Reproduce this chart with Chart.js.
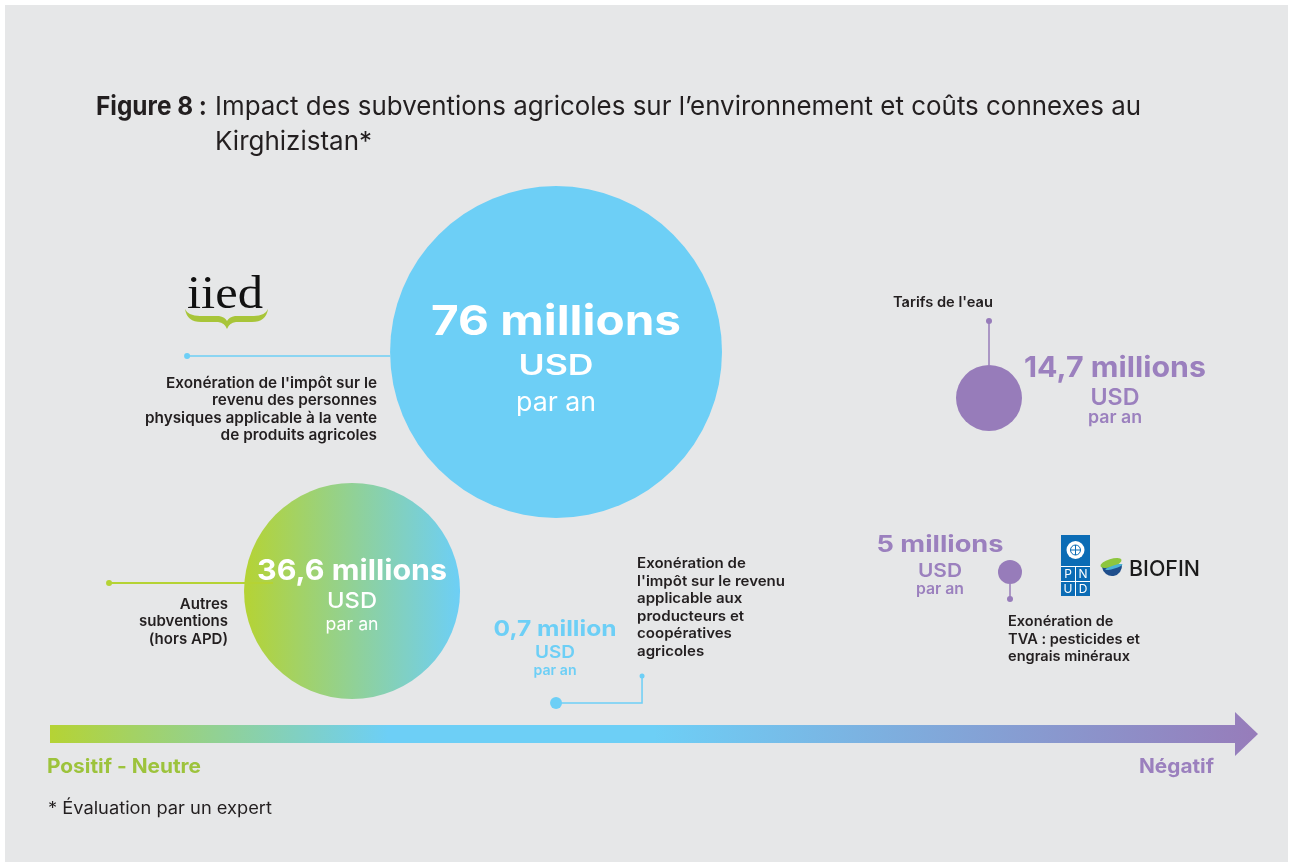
<!DOCTYPE html>
<html lang="fr">
<head>
<meta charset="utf-8">
<title>Figure 8 : Impact des subventions agricoles</title>
<script src="https://cdn.jsdelivr.net/npm/chart.js@4/dist/chart.umd.min.js"></script>
<style>
  html, body { margin: 0; padding: 0; background: #fff; }
  canvas { display: block; }
</style>
</head>
<body>
<canvas id="fig" width="1290" height="864"></canvas>
<script>
// ---- data ----
const subsidyLabels = [
  ["Exonération de l'impôt sur le", "revenu des personnes", "physiques applicable à la vente", "de produits agricoles"],
  ["Autres", "subventions", "(hors APD)"],
  ["Exonération de", "l'impôt sur le revenu", "applicable aux", "producteurs et", "coopératives", "agricoles"],
  ["Tarifs de l'eau"],
  ["Exonération de", "TVA : pesticides et", "engrais minéraux"]
];
const amountsMUSD = [76, 36.6, 0.7, 14.7, 5];
const impactScore = [42.17, 25.17, 42.17, 78.25, 80];   // 0 = positif, 100 = négatif
const verticalSpread = [62, 22.17, 3.5, 54.33, 25.33];
const bubbleSize = [13.83, 9, 0.5, 2.75, 1];            // in x-axis units
const unitLabels = ["USD", "par an"];
const axisLabels = ["Positif - Neutre", "Négatif"];
const titleBold = "Figure 8 :";
const titleLines = ["Impact des subventions agricoles sur l’environnement et coûts connexes au", "Kirghizistan*"];
const footnote = "* Évaluation par un expert";

// ---- layout / style ----
const W = 1290, H = 864;
const PAD = { left: 50, right: 40, top: 124, bottom: 140 };
const X_MIN = 0, X_MAX = 100;
const PX_PER_X = (W - PAD.left - PAD.right) / (X_MAX - X_MIN);
const FONT = 'Inter, "Open Sans", sans-serif';
const DARK = '#231f20';
const BLUE = '#6dcff6';
const GREEN = '#b5d334';
const PURPLE = '#977cba';
const PURPLE_TXT = '#9b80be';
const BG = '#e6e7e8';

const fmt = v => String(v).replace('.', ',') + (v < 2 ? ' million' : ' millions');

function text(c, s, x, y, o) {
  c.save();
  c.font = (o.weight || 400) + ' ' + o.size + 'px ' + (o.family || FONT);
  c.fillStyle = o.color || DARK;
  c.textBaseline = 'alphabetic';
  c.textAlign = 'left';
  const m = c.measureText(s).width;
  const k = o.k || (o.w ? o.w / m : 1);
  const w = m * k;
  const x0 = o.align === 'center' ? x - w / 2 : o.align === 'right' ? x - w : x;
  c.translate(x0, y);
  c.scale(k, 1);
  c.fillText(s, 0, 0);
  c.restore();
}

function lines(c, arr, x, y, lh, o) {
  c.save();
  c.font = (o.weight || 400) + ' ' + o.size + 'px ' + FONT;
  const k = o.w / c.measureText(arr[o.ref || 0]).width;
  c.restore();
  arr.forEach((s, j) => text(c, s, x, y + j * lh, Object.assign({}, o, { k: k, w: null })));
}

function seg(c, pts, color, lw) {
  c.save();
  c.strokeStyle = color;
  c.lineWidth = lw;
  c.beginPath();
  pts.forEach((p, j) => j ? c.lineTo(p[0], p[1]) : c.moveTo(p[0], p[1]));
  c.stroke();
  c.restore();
}

function dot(c, x, y, r, color) {
  c.save();
  c.fillStyle = color;
  c.beginPath();
  c.arc(x, y, r, 0, Math.PI * 2);
  c.fill();
  c.restore();
}

// amount + "USD" + "par an"
function amountBlock(c, i, x, y, o) {
  text(c, fmt(amountsMUSD[i]), x, y, { weight: 700, size: o.s[0], w: o.w[0], color: o.color, align: 'center' });
  text(c, unitLabels[0], x, y + o.dy[0], { weight: o.wt[0], size: o.s[1], w: o.w[1], color: o.color, align: 'center' });
  text(c, unitLabels[1], x, y + o.dy[1], { weight: o.wt[1], size: o.s[2], w: o.w[2], color: o.color, align: 'center' });
}

const panel = {
  id: 'panel',
  beforeDraw(chart) {
    const c = chart.ctx;
    c.save();
    c.fillStyle = '#fff';
    c.fillRect(0, 0, W, H);
    c.fillStyle = BG;
    c.fillRect(5, 5, W - 7, H - 7);
    c.restore();

    // title
    text(c, titleBold, 96, 115, { weight: 700, size: 26, w: 111 });
    text(c, titleLines[0], 215, 115, { weight: 400, size: 26, w: 926 });
    text(c, titleLines[1], 215, 150, { weight: 400, size: 26, w: 157 });

    // iied logo
    text(c, 'iied', 187, 308, { size: 46, w: 76, family: '"Liberation Serif", serif', color: '#111' });
    c.save();
    c.fillStyle = '#a8c539';
    c.beginPath();
    c.moveTo(185, 309);
    c.quadraticCurveTo(188, 316, 200, 316);
    c.lineTo(219, 316);
    c.quadraticCurveTo(225, 317, 227, 321);
    c.quadraticCurveTo(229, 317, 235, 316);
    c.lineTo(254, 316);
    c.quadraticCurveTo(265, 316, 268, 309);
    c.quadraticCurveTo(266, 322, 252, 322);
    c.lineTo(236, 322);
    c.quadraticCurveTo(229, 323, 227, 329);
    c.quadraticCurveTo(225, 323, 218, 322);
    c.lineTo(201, 322);
    c.quadraticCurveTo(187, 322, 185, 309);
    c.fill();
    c.restore();

    // PNUD logo
    c.save();
    c.fillStyle = '#0b6cb5';
    c.fillRect(1061, 535, 29, 61);
    c.restore();
    dot(c, 1075.5, 550, 9, '#fff');
    c.save();
    c.strokeStyle = '#0b6cb5';
    c.lineWidth = 1;
    c.beginPath(); c.arc(1075.5, 550, 5, 0, Math.PI * 2); c.stroke();
    c.beginPath(); c.moveTo(1070.5, 550); c.lineTo(1080.5, 550); c.moveTo(1075.5, 545); c.lineTo(1075.5, 555); c.stroke();
    c.restore();
    seg(c, [[1061, 566.5], [1090, 566.5]], '#fff', 1);
    seg(c, [[1061, 581.5], [1090, 581.5]], '#fff', 1);
    seg(c, [[1075.5, 566], [1075.5, 596]], '#fff', 1);
    text(c, 'P', 1068, 578, { size: 12, color: '#fff', align: 'center' });
    text(c, 'N', 1083, 578, { size: 12, color: '#fff', align: 'center' });
    text(c, 'U', 1068, 593, { size: 12, color: '#fff', align: 'center' });
    text(c, 'D', 1083, 593, { size: 12, color: '#fff', align: 'center' });

    // BIOFIN logo
    c.save();
    c.fillStyle = '#1f4e8c';
    c.beginPath();
    c.arc(1112, 566, 10, -0.15, Math.PI + 0.15);
    c.closePath();
    c.fill();
    c.fillStyle = '#8dc63f';
    c.beginPath();
    c.ellipse(1111, 563, 11, 4, -0.3, 0, Math.PI * 2);
    c.fill();
    c.fillStyle = '#4bb3d6';
    c.beginPath();
    c.ellipse(1114, 567, 9, 1.6, -0.3, 0, Math.PI * 2);
    c.fill();
    c.restore();
    text(c, 'BIOFIN', 1129, 576, { weight: 500, size: 22, w: 71, color: '#1b1b1b' });
  }
};

const callouts = {
  id: 'callouts',
  afterDatasetsDraw(chart) {
    const c = chart.ctx;
    const pts = chart.getDatasetMeta(0).data;
    const B = i => ({ x: pts[i].x, y: pts[i].y, r: bubbleSize[i] * PX_PER_X });

    // 76 millions
    let b = B(0);
    seg(c, [[b.x - b.r - 203, b.y + 4], [b.x - b.r, b.y + 4]], BLUE, 1.5);
    dot(c, b.x - b.r - 203, b.y + 4, 3, BLUE);
    lines(c, subsidyLabels[0], b.x - 179, b.y + 36, 17.3, { weight: 600, size: 15, align: 'right', ref: 0, w: 211 });
    amountBlock(c, 0, b.x, b.y - 17, { color: '#fff', s: [41, 28, 26], w: [250, 75, 80], wt: [600, 400], dy: [40, 76] });

    // 36,6 millions
    b = B(1);
    seg(c, [[b.x - 243, b.y - 8], [b.x - 79, b.y - 8]], GREEN, 2);
    dot(c, b.x - 243, b.y - 8, 3, GREEN);
    lines(c, subsidyLabels[1], b.x - 124, b.y + 18, 17.5, { weight: 600, size: 15, align: 'right', ref: 1, w: 89 });
    amountBlock(c, 1, b.x, b.y - 11, { color: '#fff', s: [29, 22, 18], w: [190, 50, 53], wt: [500, 400], dy: [28, 50] });

    // 0,7 million
    b = B(2);
    seg(c, [[b.x, b.y], [b.x + 86, b.y], [b.x + 86, b.y - 27]], BLUE, 1.5);
    dot(c, b.x + 86, b.y - 27, 2.5, BLUE);
    lines(c, subsidyLabels[2], b.x + 81, b.y - 135, 17.5, { weight: 600, size: 14.5, align: 'left', ref: 1, w: 148 });
    amountBlock(c, 2, b.x - 1, b.y - 67, { color: BLUE, s: [22, 17, 14], w: [123, 40, 43], wt: [600, 600], dy: [22, 39] });

    // 14,7 millions
    b = B(3);
    seg(c, [[b.x, b.y - b.r], [b.x, b.y - 77]], PURPLE, 1.5);
    dot(c, b.x, b.y - 77, 3, PURPLE);
    text(c, subsidyLabels[3][0], b.x - 96, b.y - 91, { weight: 600, size: 14, w: 100 });
    amountBlock(c, 3, b.x + 126, b.y - 21, { color: PURPLE_TXT, s: [29, 23, 17], w: [182, 49, 54], wt: [600, 600], dy: [28, 46] });

    // 5 millions
    b = B(4);
    seg(c, [[b.x, b.y + b.r], [b.x, b.y + 27]], PURPLE, 1.5);
    dot(c, b.x, b.y + 27, 3, PURPLE);
    lines(c, subsidyLabels[4], b.x - 2, b.y + 54, 17.5, { weight: 600, size: 14.5, align: 'left', ref: 1, w: 132 });
    amountBlock(c, 4, b.x - 70, b.y - 20, { color: PURPLE_TXT, s: [23, 19, 15], w: [127, 44, 48], wt: [600, 600], dy: [25, 42] });

    // impact arrow along the x scale
    const xs = chart.scales.x;
    const a0 = xs.getPixelForValue(X_MIN);
    const tip = xs.getPixelForValue(X_MAX) + 8;
    const yb = chart.chartArea.bottom + 1;
    const g = c.createLinearGradient(a0, 0, tip, 0);
    g.addColorStop(0, GREEN);
    g.addColorStop(0.28, BLUE);
    g.addColorStop(0.5, BLUE);
    g.addColorStop(1, PURPLE);
    c.save();
    c.fillStyle = g;
    c.fillRect(a0, yb, tip - a0 - 23, 18);
    c.beginPath();
    c.moveTo(tip - 23, yb - 13);
    c.lineTo(tip, yb + 9);
    c.lineTo(tip - 23, yb + 31);
    c.closePath();
    c.fill();
    c.restore();
    text(c, axisLabels[0], a0 - 3, yb + 48, { weight: 700, size: 20, w: 154, color: '#9dc33c' });
    text(c, axisLabels[1], tip - 44, yb + 48, { weight: 700, size: 20, w: 75, color: PURPLE_TXT, align: 'right' });
    text(c, footnote, a0 - 2, yb + 89, { weight: 400, size: 17, w: 224 });
  }
};

function bubbleFill(ctx) {
  const i = ctx.dataIndex;
  if (i === 0 || i === 2) return BLUE;
  if (i === 3 || i === 4) return PURPLE;
  const xs = ctx.chart.scales.x;
  const cx = xs ? xs.getPixelForValue(impactScore[i]) : NaN;
  if (!ctx.chart.chartArea || !isFinite(cx)) return GREEN;
  const r = bubbleSize[i] * PX_PER_X;
  const g = ctx.chart.ctx.createLinearGradient(cx - r, 0, cx + r, 0);
  g.addColorStop(0, GREEN);
  g.addColorStop(1, BLUE);
  return g;
}

function draw() {
  new Chart(document.getElementById('fig'), {
    type: 'bubble',
    data: {
      datasets: [{
        label: 'Subventions',
        data: amountsMUSD.map((v, i) => ({ x: impactScore[i], y: verticalSpread[i], r: bubbleSize[i] * PX_PER_X })),
        backgroundColor: bubbleFill,
        borderWidth: 0,
        hoverRadius: 0,
        clip: false
      }]
    },
    options: {
      responsive: false,
      animation: false,
      events: [],
      layout: { padding: PAD, autoPadding: false },
      scales: {
        x: { type: 'linear', min: X_MIN, max: X_MAX, display: false },
        y: { type: 'linear', min: 0, max: 100, display: false }
      },
      plugins: { legend: { display: false }, tooltip: { enabled: false } }
    },
    plugins: [panel, callouts]
  });
}

const loads = ['400', '500', '600', '700'].map(w => document.fonts.load(w + ' 20px Inter'));
loads.push(document.fonts.load('400 20px "Liberation Serif"'));
Promise.all(loads).then(draw, draw);
</script>
</body>
</html>
